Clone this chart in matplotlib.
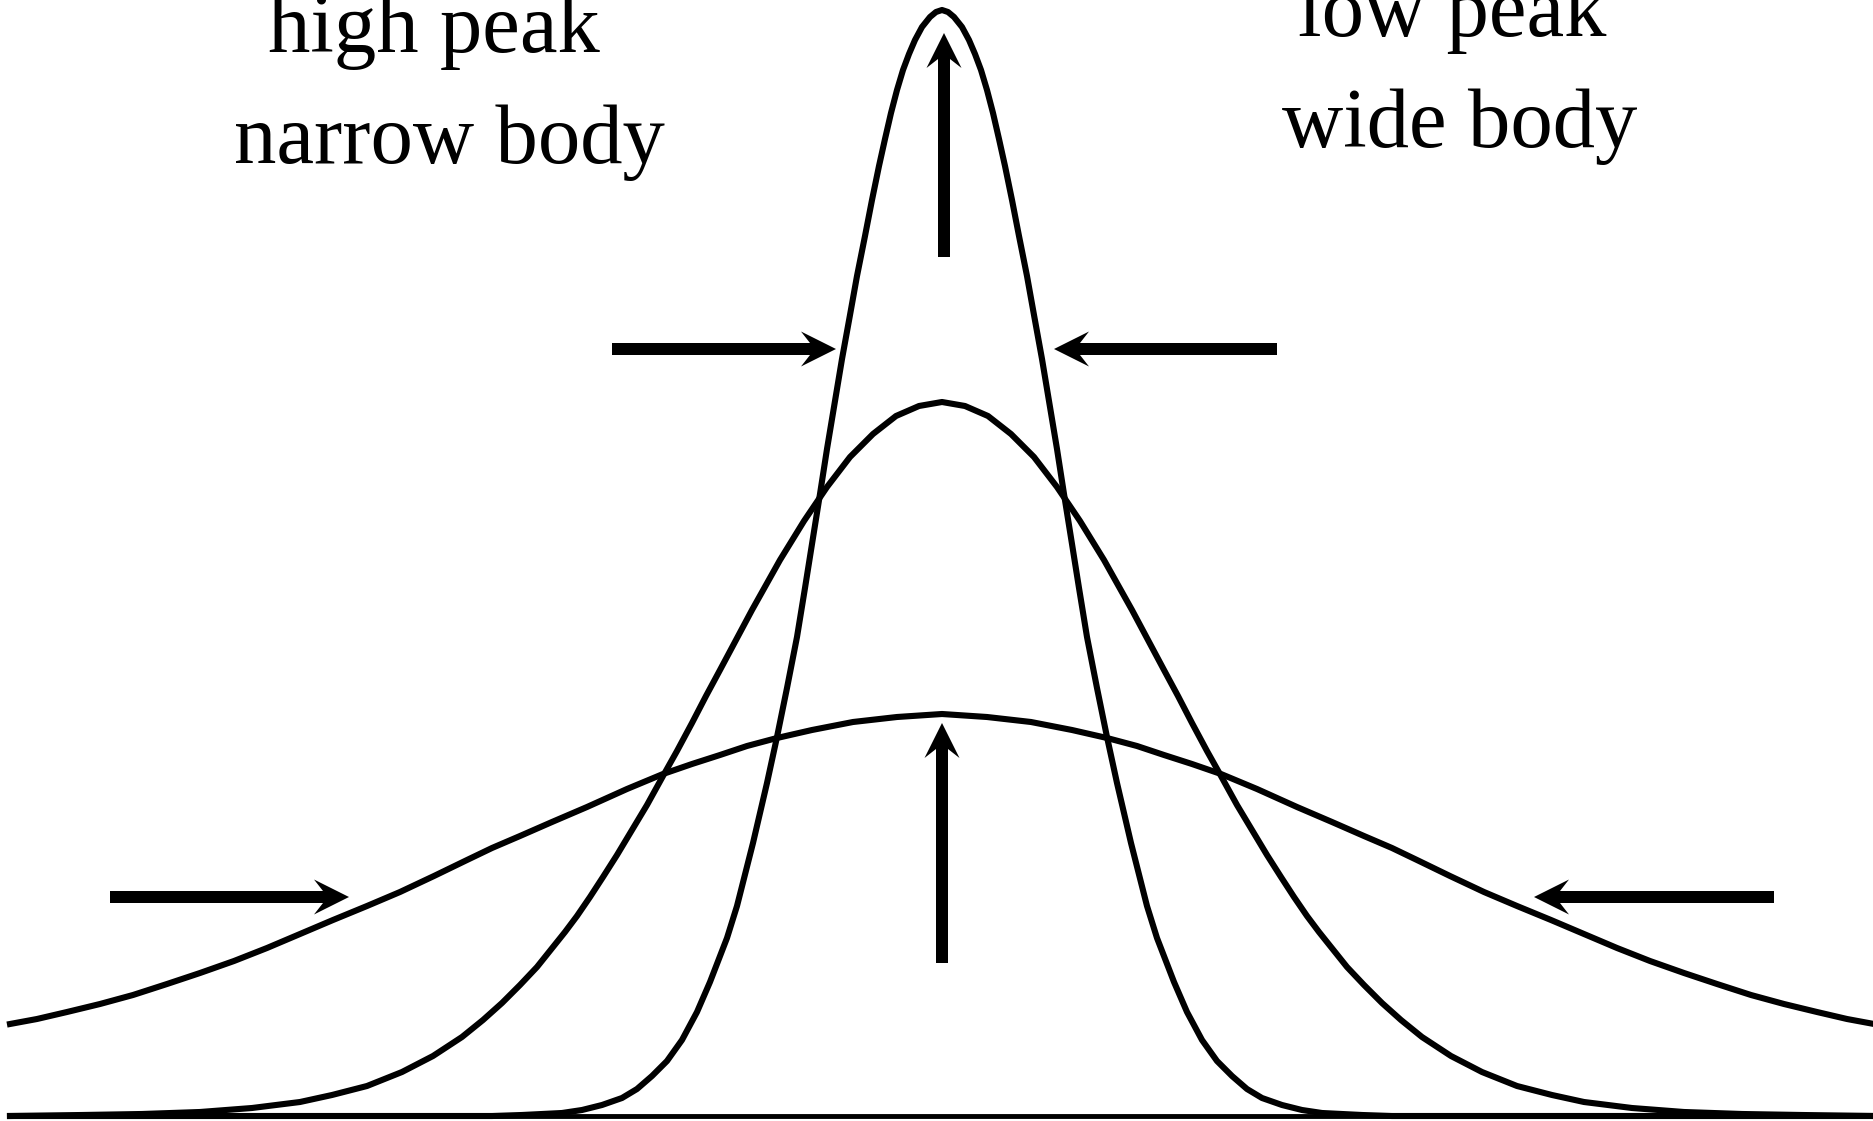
import numpy as np
import matplotlib
matplotlib.use("Agg")
import matplotlib.pyplot as plt
from matplotlib.patches import Polygon

# All three curves are symmetric about the same centre line.
# Half profiles: distance from centre (px) -> height above base line (px)
center_x = 942

# high peak, narrow body
tall_off = [0, 6, 12, 20, 27, 33, 39, 45, 51, 57, 63, 70, 77, 85, 92, 100, 107,
            115, 122, 130, 137, 145, 155, 165, 175, 189, 205, 215, 232, 245,
            260, 275, 290, 305, 320, 340, 360, 380, 400, 420, 450, 932]
tall_h = [1106, 1104, 1099, 1089, 1076, 1062, 1046, 1026, 1003, 977, 950, 916,
          880, 840, 801, 757, 715, 667, 622, 572, 528, 479, 428, 379, 333, 273,
          210, 178, 134, 104, 76, 55, 40, 27, 18, 11, 6, 3, 2, 1, 0, 0]

# normal peak
mid_off = [0, 23, 46, 69, 92, 115, 138, 162, 190, 206, 222, 236, 250, 265, 279,
           295, 310, 325, 339, 352, 365, 377, 389, 405, 422, 440, 459, 480,
           509, 540, 575, 610, 642, 690, 742, 800, 860, 932]
mid_h = [714, 710, 700, 682, 659, 629, 595, 556, 506, 476, 446, 420, 393, 365,
         340, 311, 286, 261, 239, 219, 200, 184, 169, 149, 131, 113, 96, 79,
         60, 44, 30, 21, 14, 8, 4, 2, 1, 0]

# low peak, wide body
low_off = [0, 45, 89, 130, 165, 195, 222, 250, 279, 315, 355, 390, 422, 450,
           475, 508, 542, 575, 609, 642, 675, 708, 742, 775, 809, 842, 875,
           905, 932]
low_h = [402, 399, 394, 386, 378, 370, 361, 352, 342, 327, 309, 294, 280, 268,
         256, 240, 224, 210, 196, 182, 168, 155, 143, 132, 121, 112, 104,
         97, 92]

# base line ends
base_x = [14, 1869]

# arrows: (tail x, tail h, tip x, tip h)
arrows = [(944, 859, 944, 1083),
          (942, 153, 942, 393),
          (612, 767, 836, 767),
          (1277, 767, 1054, 767),
          (110, 219, 349, 219),
          (1774, 219, 1534, 219)]

labels = [("high peak", 434, 1064), ("narrow body", 449, 953),
          ("low peak", 1452, 1080), ("wide body", 1460, 969)]


def full_curve(off, h):
    off = np.asarray(off, dtype=float)
    h = np.asarray(h, dtype=float)
    xs = np.concatenate([center_x - off[::-1], center_x + off[1:]])
    hs = np.concatenate([h[::-1], h[1:]])
    return xs, hs


def draw_arrow(ax, x0, y0, x1, y1, w=6.0, head_len=35.0, head_w=17.5, notch=26.0):
    d = np.array([x1 - x0, y1 - y0], dtype=float)
    u = d / np.hypot(*d)
    v = np.array([-u[1], u[0]])
    tail = np.array([x0, y0], dtype=float)
    tip = np.array([x1, y1], dtype=float)
    pts = [tail + w * v,
           tip - notch * u + w * v,
           tip - head_len * u + head_w * v,
           tip,
           tip - head_len * u - head_w * v,
           tip - notch * u - w * v,
           tail - w * v]
    ax.add_patch(Polygon(pts, closed=True, facecolor="black", edgecolor="none", zorder=5))


fig = plt.figure(figsize=(18.74, 11.21), dpi=100, facecolor="white")
ax = fig.add_axes([0, 0, 1, 1])
ax.set_xlim(0, 1874)
ax.set_ylim(-5, 1116)
ax.axis("off")

ax.hlines(0, base_x[0], base_x[1], color="black", linewidth=3.5)
for off, h in [(tall_off, tall_h), (mid_off, mid_h), (low_off, low_h)]:
    xs, hs = full_curve(off, h)
    ax.plot(xs, hs, color="black", linewidth=4.4, solid_joinstyle="round")

for a in arrows:
    draw_arrow(ax, *a)

for txt, x, y in labels:
    ax.text(x, y, txt, ha="center", va="baseline", fontsize=61,
            family="Liberation Serif", color="black")

fig.savefig("out.png", dpi=100, facecolor="white")
